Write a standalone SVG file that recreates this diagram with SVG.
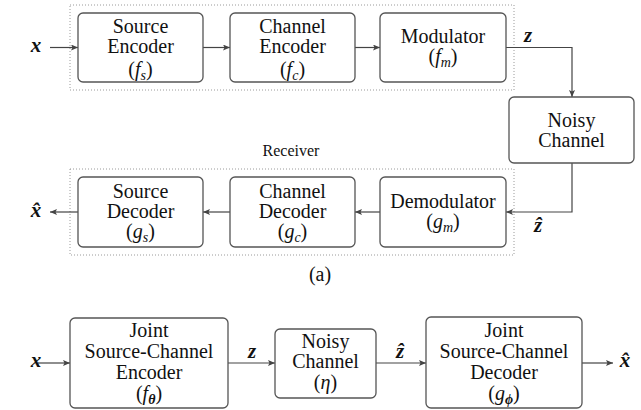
<svg xmlns="http://www.w3.org/2000/svg" width="641" height="410" viewBox="0 0 641 410">
  <style>
    .box { fill: #ffffff; stroke: #555555; stroke-width: 1.3; }
    .group { fill: none; stroke: #9a9a9a; stroke-width: 1; stroke-dasharray: 1 2; }
    .wire { fill: none; stroke: #444444; stroke-width: 1.2; marker-end: url(#tip); }
    text { fill: #111111; }
    .lbl { font-size: 20px; text-anchor: middle; }
    .math { font-size: 21px; font-style: italic; font-weight: bold; text-anchor: middle; }
    .it { font-style: italic; }
    .small { font-size: 16px; text-anchor: middle; }
  </style>
  <defs>
    <marker id="tip" markerUnits="userSpaceOnUse" markerWidth="7" markerHeight="6" refX="7" refY="3" orient="auto">
      <path d="M0,0 L7,3 L0,6 L1.5,3 z" fill="#444444"/>
    </marker>
  </defs>

  <g font-family="Liberation Serif, serif">
  <!-- transmitter / receiver groupings -->
  <rect class="group" x="70" y="5" width="444" height="85"/>
  <rect class="group" x="70" y="169" width="444" height="86"/>
  <text class="small" x="291" y="156">Receiver</text>

  <!-- connectors -->
  <g id="connectors">
    <line class="wire" x1="50" y1="47.5" x2="78" y2="47.5"/>
    <line class="wire" x1="203" y1="47.5" x2="230" y2="47.5"/>
    <line class="wire" x1="355" y1="47.5" x2="380" y2="47.5"/>
    <path class="wire" d="M506,47.5 H572 V97"/>
    <path class="wire" d="M572,163 V212 H506"/>
    <line class="wire" x1="380" y1="212" x2="355" y2="212"/>
    <line class="wire" x1="230" y1="212" x2="203" y2="212"/>
    <line class="wire" x1="78" y1="212" x2="50" y2="212"/>

    <line class="wire" x1="38" y1="363" x2="70" y2="363"/>
    <line class="wire" x1="228" y1="363" x2="275" y2="363"/>
    <line class="wire" x1="376" y1="363" x2="426" y2="363"/>
    <line class="wire" x1="582" y1="363" x2="613" y2="363"/>
  </g>

  <!-- signal labels -->
  <text class="math" x="36" y="52">x</text>
  <text class="math" x="528" y="42">z</text>
  <text class="math" x="538" y="232">z&#770;</text>
  <text class="math" x="36" y="217">x&#770;</text>
  <text class="math" x="36" y="367">x</text>
  <text class="math" x="252" y="358">z</text>
  <text class="math" x="400" y="358">z&#770;</text>
  <text class="math" x="625" y="367">x&#770;</text>

  <!-- (a) separable pipeline -->
  <g id="source-encoder">
    <rect class="box" x="78" y="13" width="125" height="69" rx="5"/>
    <text class="lbl" x="140.5" y="33">Source</text>
    <text class="lbl" x="140.5" y="53">Encoder</text>
    <text class="lbl" x="140.5" y="76">(<tspan class="it">f</tspan><tspan class="it" font-size="14" dy="4">s</tspan><tspan dy="-4">)</tspan></text>
  </g>
  <g id="channel-encoder">
    <rect class="box" x="230" y="13" width="125" height="69" rx="5"/>
    <text class="lbl" x="292.5" y="33">Channel</text>
    <text class="lbl" x="292.5" y="53">Encoder</text>
    <text class="lbl" x="292.5" y="76">(<tspan class="it">f</tspan><tspan class="it" font-size="14" dy="4">c</tspan><tspan dy="-4">)</tspan></text>
  </g>
  <g id="modulator">
    <rect class="box" x="380" y="13" width="126" height="69" rx="5"/>
    <text class="lbl" x="443" y="43">Modulator</text>
    <text class="lbl" x="443" y="63">(<tspan class="it">f</tspan><tspan class="it" font-size="14" dy="4">m</tspan><tspan dy="-4">)</tspan></text>
  </g>
  <g id="noisy-channel">
    <rect class="box" x="509" y="97" width="125" height="66" rx="5"/>
    <text class="lbl" x="571.5" y="127">Noisy</text>
    <text class="lbl" x="571.5" y="147">Channel</text>
  </g>
  <g id="demodulator">
    <rect class="box" x="380" y="177" width="126" height="70" rx="5"/>
    <text class="lbl" x="443" y="208">Demodulator</text>
    <text class="lbl" x="443" y="228">(<tspan class="it">g</tspan><tspan class="it" font-size="14" dy="4">m</tspan><tspan dy="-4">)</tspan></text>
  </g>
  <g id="channel-decoder">
    <rect class="box" x="230" y="177" width="125" height="70" rx="5"/>
    <text class="lbl" x="292.5" y="198">Channel</text>
    <text class="lbl" x="292.5" y="218">Decoder</text>
    <text class="lbl" x="292.5" y="238">(<tspan class="it">g</tspan><tspan class="it" font-size="14" dy="4">c</tspan><tspan dy="-4">)</tspan></text>
  </g>
  <g id="source-decoder">
    <rect class="box" x="78" y="177" width="125" height="70" rx="5"/>
    <text class="lbl" x="140.5" y="198">Source</text>
    <text class="lbl" x="140.5" y="218">Decoder</text>
    <text class="lbl" x="140.5" y="238">(<tspan class="it">g</tspan><tspan class="it" font-size="14" dy="4">s</tspan><tspan dy="-4">)</tspan></text>
  </g>
  <text class="lbl" x="320" y="281">(a)</text>

  <!-- joint source-channel pipeline -->
  <g id="jscc-encoder">
    <rect class="box" x="70" y="318" width="158" height="90" rx="5"/>
    <text class="lbl" x="149" y="337">Joint</text>
    <text class="lbl" x="149" y="358">Source-Channel</text>
    <text class="lbl" x="149" y="379">Encoder</text>
    <text class="lbl" x="149" y="400">(<tspan class="it">f</tspan><tspan class="it" font-weight="bold" font-size="14" dy="4">θ</tspan><tspan dy="-4">)</tspan></text>
  </g>
  <g id="jscc-channel">
    <rect class="box" x="275" y="329" width="101" height="69" rx="5"/>
    <text class="lbl" x="325.5" y="348">Noisy</text>
    <text class="lbl" x="325.5" y="368">Channel</text>
    <text class="lbl" x="325.5" y="389">(<tspan class="it">η</tspan>)</text>
  </g>
  <g id="jscc-decoder">
    <rect class="box" x="426" y="317" width="156" height="91" rx="5"/>
    <text class="lbl" x="504" y="337">Joint</text>
    <text class="lbl" x="504" y="358">Source-Channel</text>
    <text class="lbl" x="504" y="379">Decoder</text>
    <text class="lbl" x="504" y="400">(<tspan class="it">g</tspan><tspan class="it" font-weight="bold" font-size="14" dy="4">ϕ</tspan><tspan dy="-4">)</tspan></text>
  </g>
  </g>
</svg>
